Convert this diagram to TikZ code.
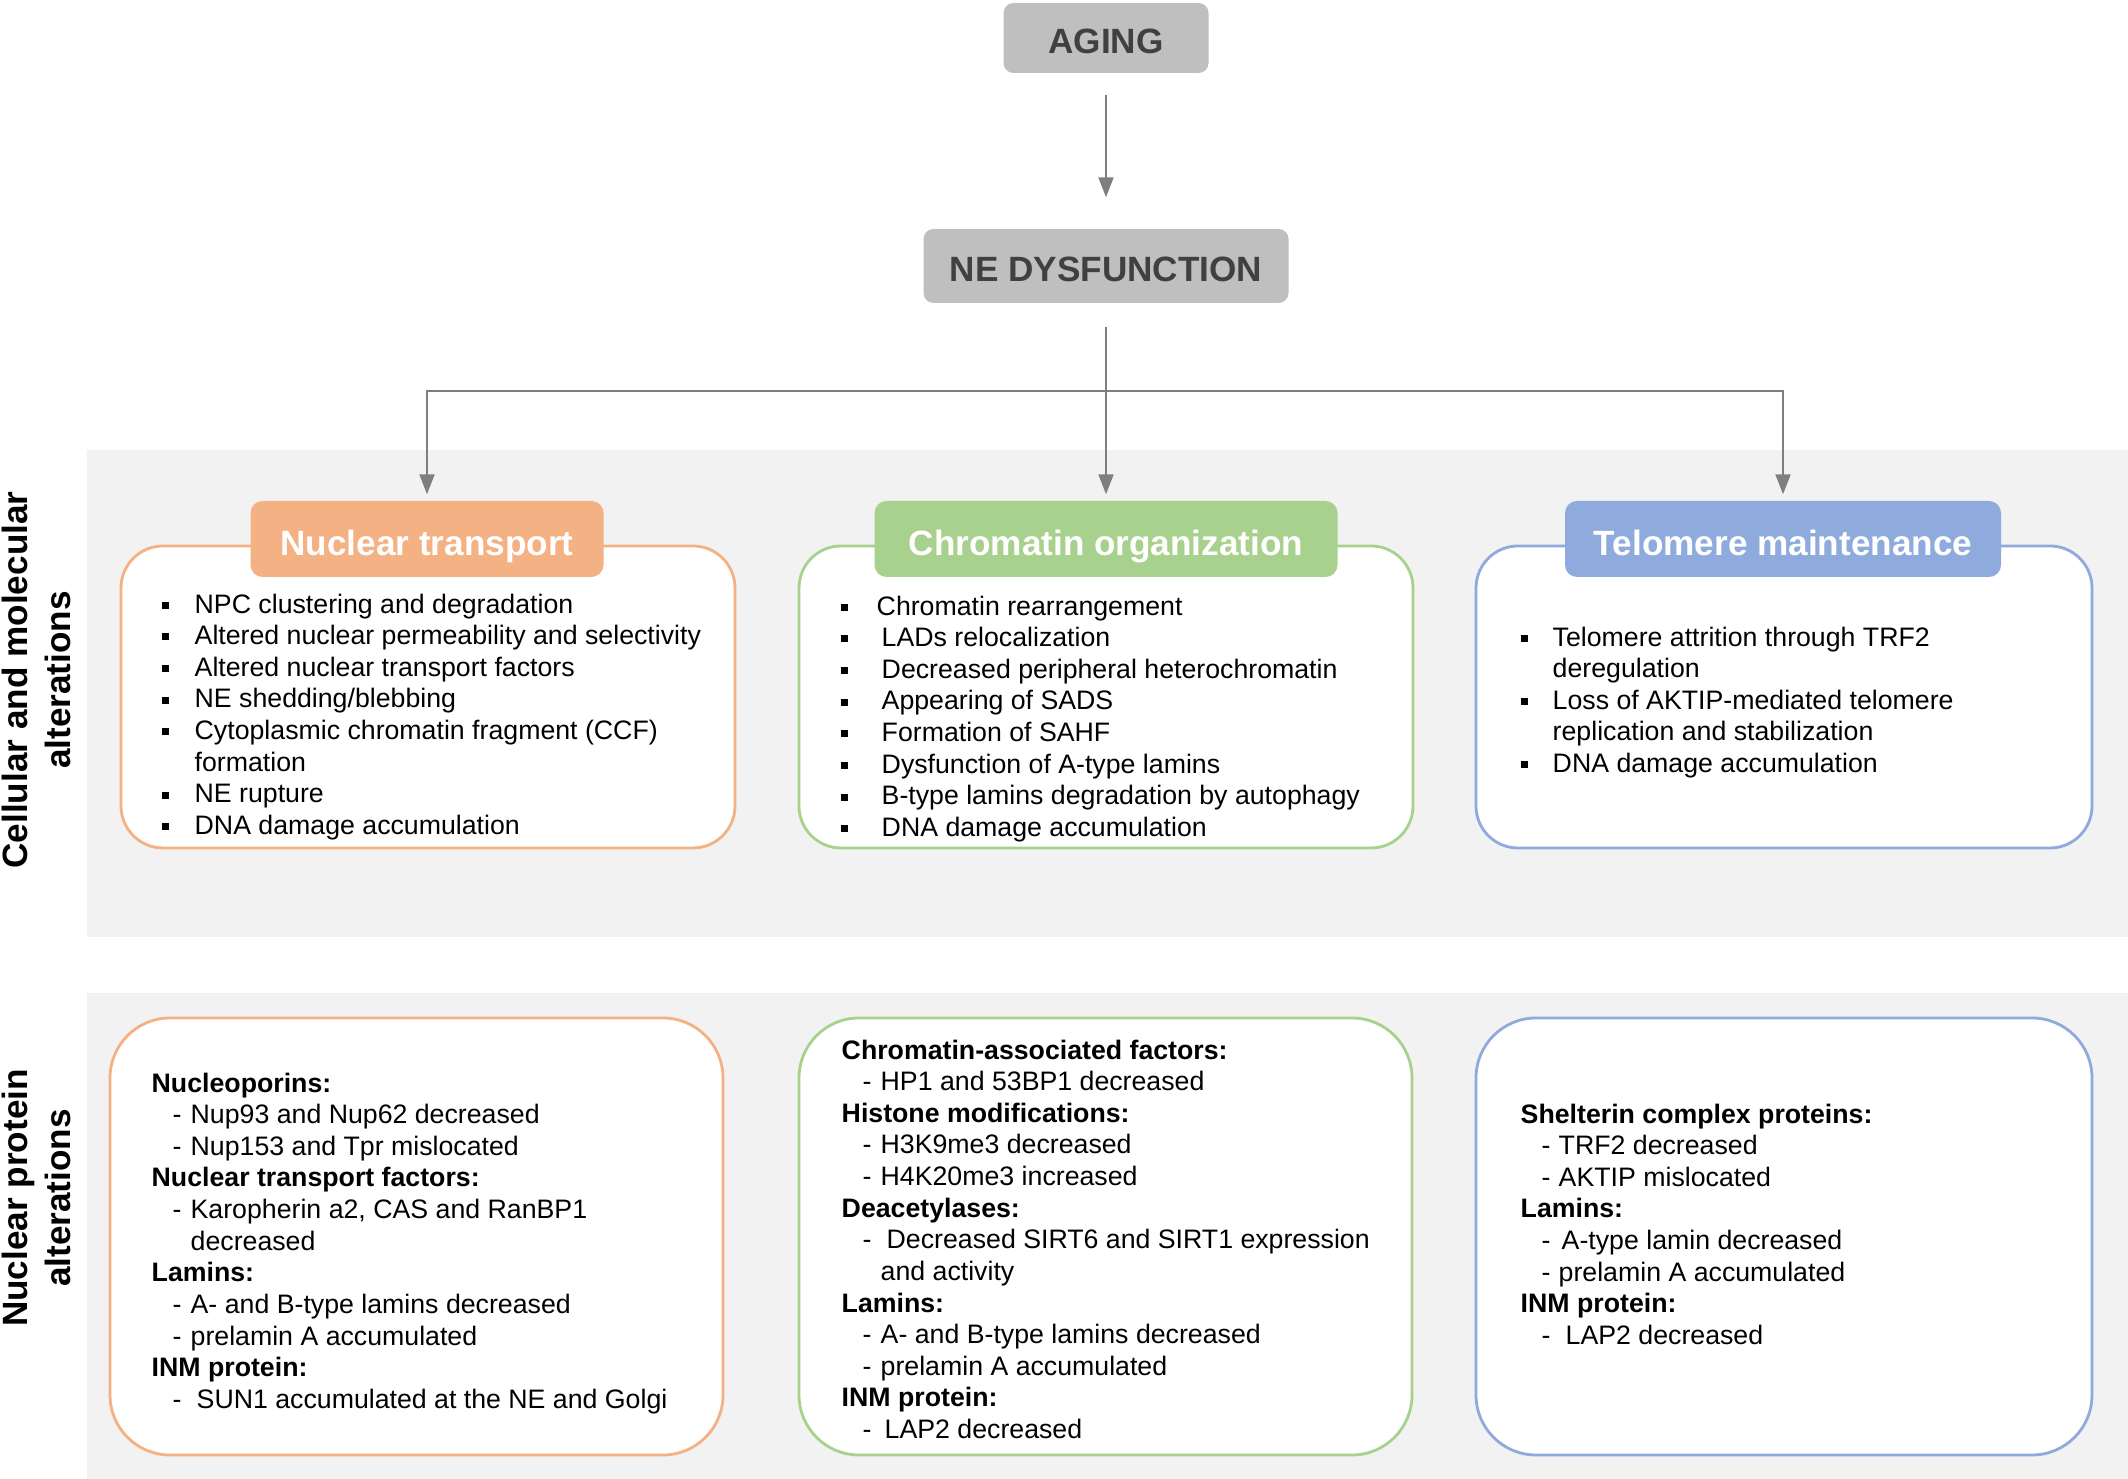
\documentclass[tikz,border=0pt]{standalone}
\usepackage{fontspec}
\setmainfont{Liberation Sans}
\usetikzlibrary{arrows.meta,positioning}
\definecolor{boxgray}{HTML}{BFBFBF}
\definecolor{bandgray}{HTML}{F2F2F2}
\definecolor{linegray}{HTML}{7F7F7F}
\definecolor{darktext}{HTML}{404040}
\definecolor{ntorange}{HTML}{F4B183}
\definecolor{cogreen}{HTML}{A9D18E}
\definecolor{tmblue}{HTML}{8FAADC}
\newcommand{\bul}[1][3.3mm]{\makebox[#1][l]{\rule[1.2pt]{2pt}{2pt}}}
\newcommand{\dsh}[1][1.8mm]{\hspace*{2.1mm}\makebox[#1][l]{-}}
\newcommand{\hd}[1]{\textbf{#1}}

\begin{document}
\begin{tikzpicture}[
			topbox/.style = {fill=boxgray, rounded corners=1mm, text=darktext, font=\bfseries\fontsize{10}{12}\selectfont, inner sep=0pt, text height=9pt, text depth=0pt},
			head/.style   = {rounded corners=1.2mm, text=white, font=\bfseries\fontsize{10}{12}\selectfont, minimum height=0.76cm, inner sep=0pt, text height=9.2pt, text depth=0pt},
			panel/.style  = {draw, fill=white, line width=0.8pt, inner sep=0pt},
			txt/.style    = {anchor=north west, inner sep=0pt, align=left, font=\fontsize{7.6}{9}\selectfont},
			side/.style   = {rotate=90, align=center, font=\bfseries\fontsize{10}{12.2}\selectfont, inner sep=0pt},
			arr/.style    = {draw=linegray, line width=0.6pt, -{Triangle[length=2mm,width=1.5mm]}},]

			\useasboundingbox (0,0) rectangle (21.28,14.79);

			%% GRAY BANDS
			\fill[bandgray] (0.87,5.42) rectangle (21.28,10.29);
			\fill[bandgray] (0.87,0) rectangle (21.28,4.86);

			%% AGING -> NE DYSFUNCTION
			\node[topbox, minimum width=2.05cm, minimum height=0.70cm] (aging) at (11.06,14.41) {AGING};
			\node[topbox, minimum width=3.65cm, minimum height=0.74cm] (nedys) at (11.06,12.13) {NE DYSFUNCTION};
			\coordinate (split) at (11.06,10.88);

			%% UPPER PANELS
			\node[panel, draw=ntorange, rounded corners=4.2mm, minimum width=6.14cm, minimum height=3.02cm] (ntbox) at (4.28,7.82) {};
			\node[panel, draw=cogreen, rounded corners=4.2mm, minimum width=6.14cm, minimum height=3.02cm] (cobox) at (11.06,7.82) {};
			\node[panel, draw=tmblue, rounded corners=4.2mm, minimum width=6.16cm, minimum height=3.02cm] (tmbox) at (17.84,7.82) {};
			\node[head, fill=ntorange, minimum width=3.53cm] (nthead) at (4.27,9.40) {Nuclear transport};
			\node[head, fill=cogreen, minimum width=4.63cm] (cohead) at (11.06,9.40) {Chromatin organization};
			\node[head, fill=tmblue, minimum width=4.36cm] (tmhead) at (17.83,9.40) {Telomere maintenance};

			\draw[arr, shorten <=2.1mm, shorten >=3.1mm] (aging) -- (nedys);
			\draw[arr, shorten <=2.3mm, shorten >=0.6mm] (nedys) -- (cohead);
			\draw[arr, shorten >=0.6mm] (split) -| (nthead);
			\draw[arr, shorten >=0.6mm] (split) -| (tmhead);

			\node[txt] (nttxt) at (1.61,8.86) {\bul NPC clustering and degradation\\
				\bul Altered nuclear permeability and selectivity\\
				\bul Altered nuclear transport factors\\
				\bul NE shedding/blebbing\\
				\bul Cytoplasmic chromatin fragment (CCF)\\
				\hspace*{3.3mm}formation\\
				\bul NE rupture\\
				\bul DNA damage accumulation};
			\node[txt] (cotxt) at (8.40,8.84) {\bul[3.6mm]Chromatin rearrangement\\
				\bul[4.1mm]LADs relocalization\\
				\bul[4.1mm]Decreased peripheral heterochromatin\\
				\bul[4.1mm]Appearing of SADS\\
				\bul[4.1mm]Formation of SAHF\\
				\bul[4.1mm]Dysfunction of A-type lamins\\
				\bul[4.1mm]B-type lamins degradation by autophagy\\
				\bul[4.1mm]DNA damage accumulation};
			\node[txt] (tmtxt) at (15.20,8.53) {\bul[3.2mm]Telomere attrition through TRF2\\
				\hspace*{3.2mm}deregulation\\
				\bul[3.2mm]Loss of AKTIP-mediated telomere\\
				\hspace*{3.2mm}replication and stabilization\\
				\bul[3.2mm]DNA damage accumulation};

			%% LOWER PANELS
			\node[panel, draw=ntorange, rounded corners=6mm, minimum width=6.13cm, minimum height=4.37cm] (ntlow) at (4.165,2.425) {};
			\node[panel, draw=cogreen, rounded corners=6mm, minimum width=6.13cm, minimum height=4.37cm] (colow) at (11.055,2.425) {};
			\node[panel, draw=tmblue, rounded corners=6mm, minimum width=6.16cm, minimum height=4.37cm] (tmlow) at (17.84,2.425) {};

			\node[txt] (ntlowtxt) at (1.51,4.07) {\hd{Nucleoporins:}\\
				\dsh Nup93 and Nup62 decreased\\
				\dsh Nup153 and Tpr mislocated\\
				\hd{Nuclear transport factors:}\\
				\dsh Karopherin a2, CAS and RanBP1\\
				\hspace*{3.9mm}decreased\\
				\hd{Lamins:}\\
				\dsh A- and B-type lamins decreased\\
				\dsh prelamin A accumulated\\
				\hd{INM protein:}\\
				\dsh[2.4mm]SUN1 accumulated at the NE and Golgi};
			\node[txt] (colowtxt) at (8.41,4.40) {\hd{Chromatin-associated factors:}\\
				\dsh HP1 and 53BP1 decreased\\
				\hd{Histone modifications:}\\
				\dsh H3K9me3 decreased\\
				\dsh H4K20me3 increased\\
				\hd{Deacetylases:}\\
				\dsh[2.4mm]Decreased SIRT6 and SIRT1 expression\\
				\hspace*{3.9mm}and activity\\
				\hd{Lamins:}\\
				\dsh A- and B-type lamins decreased\\
				\dsh prelamin A accumulated\\
				\hd{INM protein:}\\
				\dsh[2.2mm]LAP2 decreased};
			\node[txt] (tmlowtxt) at (15.20,3.76) {\hd{Shelterin complex proteins:}\\
				\dsh[1.7mm]TRF2 decreased\\
				\dsh[1.7mm]AKTIP mislocated\\
				\hd{Lamins:}\\
				\dsh[2.0mm]A-type lamin decreased\\
				\dsh[1.7mm]prelamin A accumulated\\
				\hd{INM protein:}\\
				\dsh[2.4mm]LAP2 decreased};

			%% SIDE LABELS
			\node[side] (cellab) at (0.36,7.99) {Cellular and molecular\\alterations};
			\node[side] (nuclab) at (0.36,2.81) {Nuclear protein\\alterations};
\end{tikzpicture}
\end{document}
